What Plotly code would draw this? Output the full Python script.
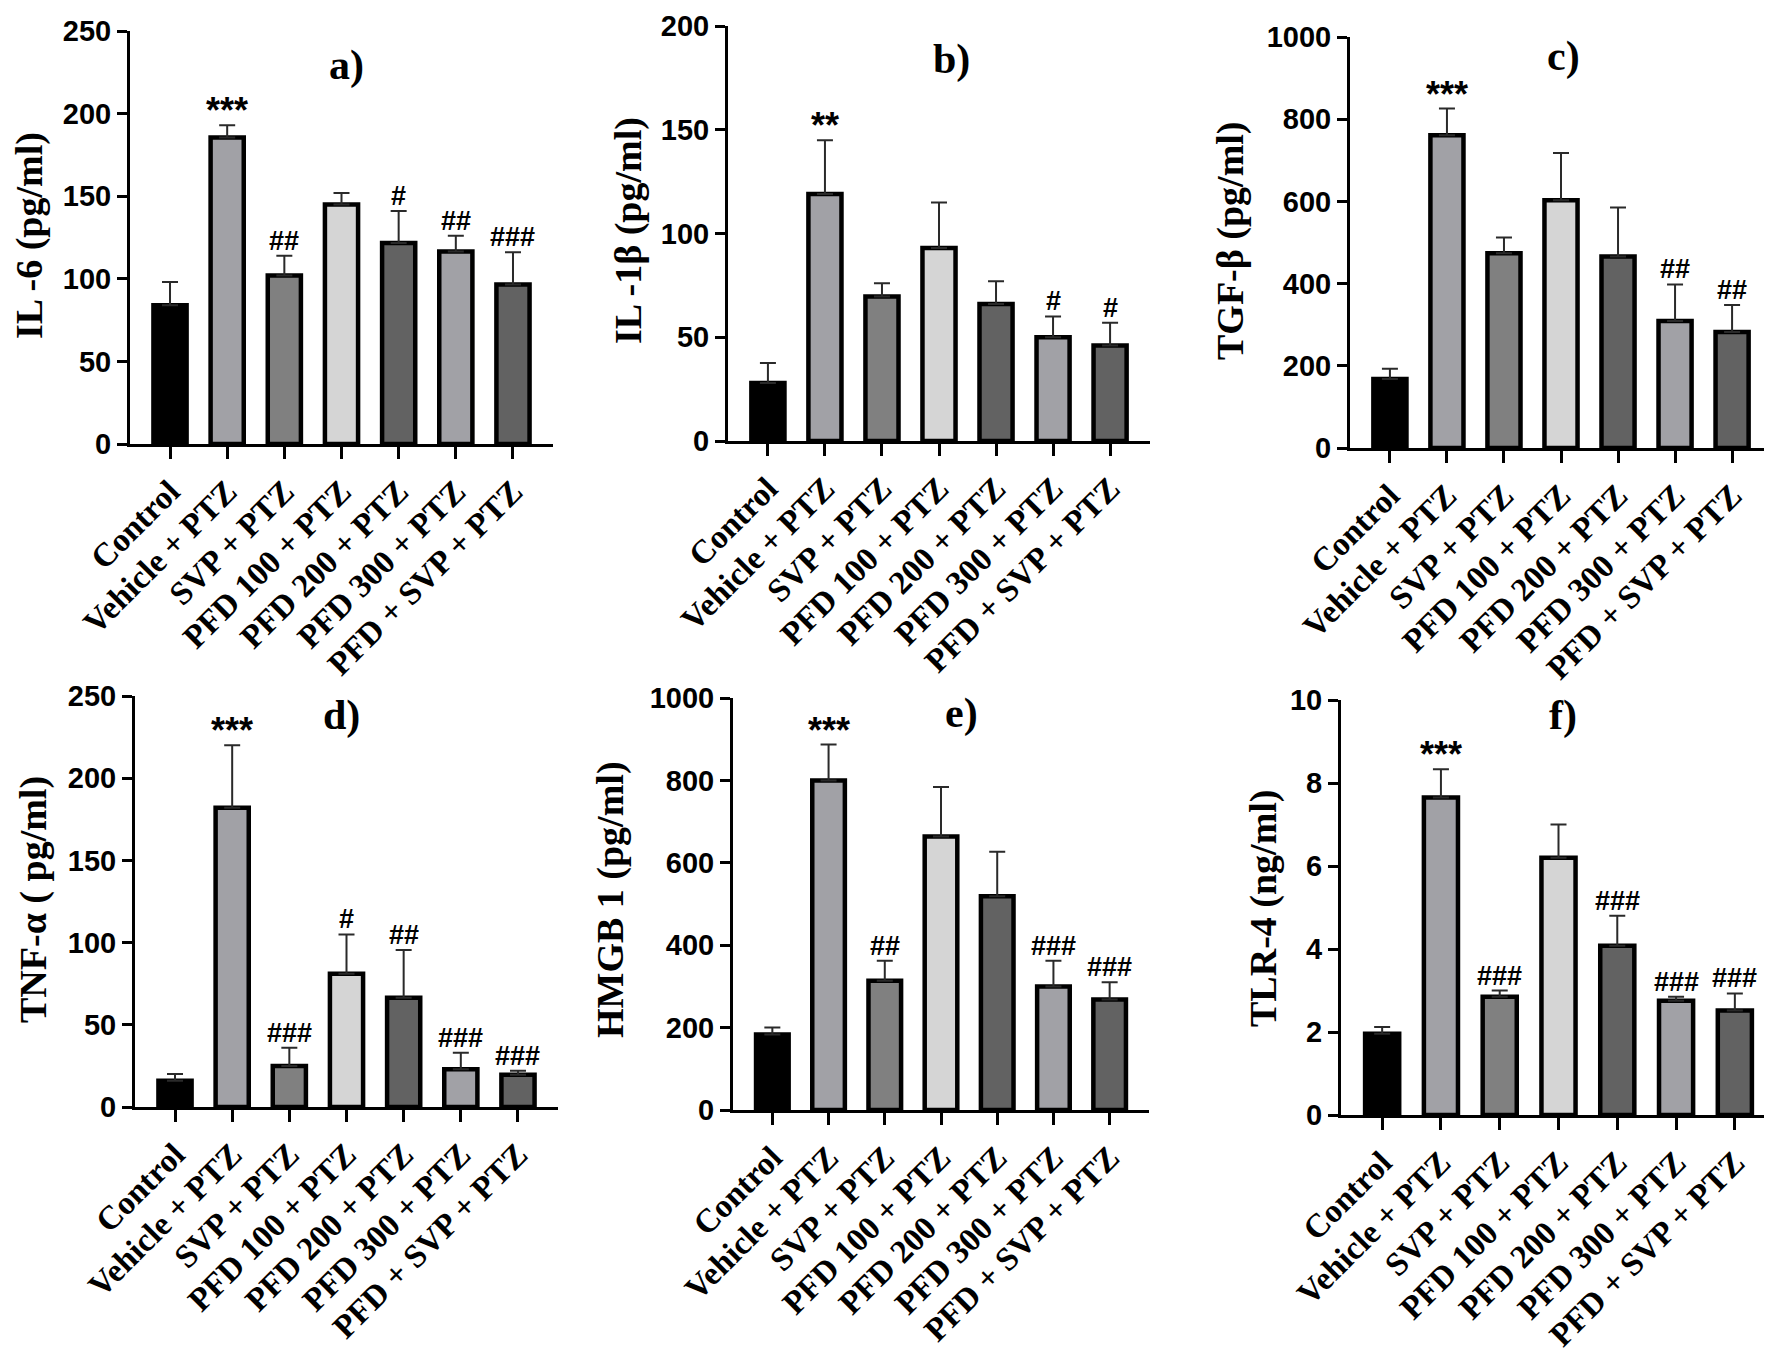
import plotly.graph_objects as go

W, H = 1772, 1350

categories = ["Control", "Vehicle + PTZ", "SVP + PTZ", "PFD 100 + PTZ",
              "PFD 200 + PTZ", "PFD 300 + PTZ", "PFD + SVP + PTZ"]
bar_colors = ["#000000", "#a1a1a6", "#808080", "#d5d5d5", "#626262", "#a1a1a6", "#626262"]

# panel a) IL-6
il6_mean = [84, 185.5, 102, 145, 121.6, 116.5, 96.5]
il6_err = [14, 7.5, 12, 7, 19.4, 9.5, 19.5]
il6_sig = ["", "***", "##", "", "#", "##", "###"]
# panel b) IL-1beta
il1b_mean = [28, 119, 69.6, 93, 66, 50, 46]
il1b_err = [9.6, 26, 6.4, 22, 11, 10, 11]
il1b_sig = ["", "**", "", "", "", "#", "#"]
# panel c) TGF-beta
tgfb_mean = [168, 761, 474, 603, 466, 309, 282]
tgfb_err = [25, 65, 38, 115, 119, 89, 66]
tgfb_sig = ["", "***", "", "", "", "##", "##"]
# panel d) TNF-alpha
tnfa_mean = [16, 182, 25, 81, 66.5, 23, 19.6]
tnfa_err = [4, 38, 11, 24, 29, 10, 2.4]
tnfa_sig = ["", "***", "###", "#", "##", "###", "###"]
# panel e) HMGB 1
hmgb1_mean = [183, 800, 314, 664, 519, 300, 268]
hmgb1_err = [17, 87, 48, 120, 108, 62, 42]
hmgb1_sig = ["", "***", "##", "", "", "###", "###"]
# panel f) TLR-4
tlr4_mean = [1.96, 7.65, 2.85, 6.2, 4.08, 2.75, 2.52]
tlr4_err = [0.16, 0.68, 0.15, 0.8, 0.72, 0.1, 0.41]
tlr4_sig = ["", "***", "###", "", "###", "###", "###"]

titles = ["IL -6 (pg/ml)", "IL -1β (pg/ml)", "TGF-β (pg/ml)",
          "TNF-α ( pg/ml)", "HMGB 1 (pg/ml)", "TLR-4 (ng/ml)"]
letters = ["a)", "b)", "c)", "d)", "e)", "f)"]
y_max = [250, 200, 1000, 250, 1000, 10]
y_step = [50, 50, 200, 50, 200, 2]

means = [il6_mean, il1b_mean, tgfb_mean, tnfa_mean, hmgb1_mean, tlr4_mean]
errs = [il6_err, il1b_err, tgfb_err, tnfa_err, hmgb1_err, tlr4_err]
sigs = [il6_sig, il1b_sig, tgfb_sig, tnfa_sig, hmgb1_sig, tlr4_sig]

# layout geometry in pixels: (x_left, x_right, y_zero, y_top)
boxes = [(122, 545, 436, 23), (720, 1142, 433, 18), (1342, 1764, 440, 29),
         (127, 550, 1099, 688), (725, 1141, 1102, 690), (1333, 1768, 1107, 692)]
letter_pos = [(338, 57), (943, 52), (1555, 48), (333, 707), (953, 705), (1555, 707)]
ytitle_pos = [(22, 228), (620, 223), (1222, 233), (25, 892), (602, 892), (1255, 900)]

SERIF = "Liberation Serif"
SANS = "Liberation Sans"

fig = go.Figure()
annotations = []
layout_axes = {}
for i in range(6):
    n = "" if i == 0 else str(i + 1)
    xl, xr, y0, yt = boxes[i]
    xa = "x" + n
    ya = "y" + n
    fig.add_trace(go.Bar(
        x=list(range(7)), y=means[i], width=0.58,
        marker=dict(color=bar_colors, line=dict(color="black", width=4.5)),
        error_y=dict(type="data", array=errs[i], arrayminus=[0] * 7, symmetric=False,
                     color="#2a2a2a", thickness=2, width=8),
        xaxis=xa, yaxis=ya, showlegend=False))
    layout_axes["xaxis" + n] = dict(
        domain=[xl / W, xr / W], anchor=ya, range=[-0.7, 6.7],
        tickmode="array", tickvals=list(range(7)), ticktext=categories,
        tickangle=-45, tickfont=dict(family=SERIF, size=33, color="black", weight=700),
        showline=True, linecolor="black", linewidth=3, ticks="outside",
        ticklen=12, tickwidth=3, tickcolor="black", showgrid=False, zeroline=False,
        automargin=False, fixedrange=True)
    layout_axes["yaxis" + n] = dict(
        domain=[1 - y0 / H, 1 - yt / H], anchor=xa, range=[0, y_max[i]],
        tickmode="linear", tick0=0, dtick=y_step[i], ticklabeloverflow="allow",
        tickfont=dict(family=SANS, size=29, color="black", weight=700),
        showline=True, linecolor="black", linewidth=3, ticks="outside",
        ticklen=10, tickwidth=3, tickcolor="black", showgrid=False, zeroline=False,
        automargin=False, fixedrange=True)
    for k in range(7):
        s = sigs[i][k]
        if s:
            annotations.append(dict(
                x=k, y=means[i][k] + errs[i][k], xref=xa, yref=ya,
                text=s, showarrow=False, yanchor="bottom", yshift=-2 if "#" in s else -8,
                font=dict(family=SANS, size=36 if "*" in s else 27, color="black", weight=700)))
    lx, ly = letter_pos[i]
    annotations.append(dict(x=lx / W, y=1 - ly / H, xref="paper", yref="paper",
                            text=letters[i], showarrow=False, xanchor="center", yanchor="middle",
                            font=dict(family=SERIF, size=42, color="black", weight=700)))
    tx, ty = ytitle_pos[i]
    annotations.append(dict(x=tx / W, y=1 - ty / H, xref="paper", yref="paper",
                            text=titles[i], showarrow=False, textangle=-90,
                            xanchor="center", yanchor="middle",
                            font=dict(family=SERIF, size=38, color="black", weight=700)))

fig.update_layout(
    width=W, height=H, margin=dict(l=0, r=0, t=0, b=0),
    paper_bgcolor="white", plot_bgcolor="white",
    annotations=annotations, bargap=0.3, **layout_axes)

fig.write_html("out.html")
